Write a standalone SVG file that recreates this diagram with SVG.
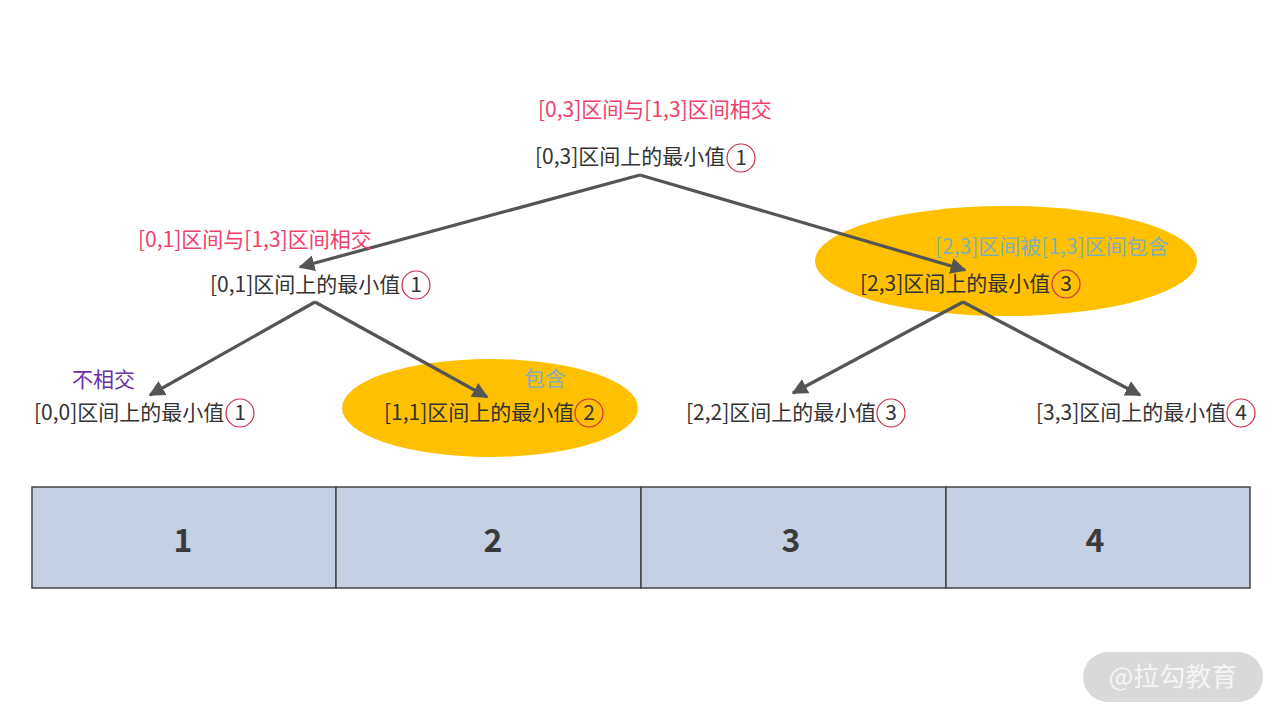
<svg xmlns="http://www.w3.org/2000/svg" width="1280" height="720" viewBox="0 0 1280 720">
<defs>
<style>
.t{font-family:"Noto Sans CJK SC","Noto Sans",sans-serif;font-size:21px;fill:#333;}
.red{font-family:"Noto Sans CJK SC","Noto Sans",sans-serif;font-size:21px;fill:#f0406a;}
.teal{font-family:"Noto Sans CJK SC","Noto Sans",sans-serif;font-size:21px;fill:#7fb0b8;}
.pur{font-family:"Noto Sans CJK SC","Noto Sans",sans-serif;font-size:21px;fill:#6a2fa8;}
.c{fill:none;stroke:#c8304a;stroke-width:1.2;}
.e{fill:#ffc000;}
.ln{stroke:#555;stroke-width:3.2;fill:none;marker-end:url(#ah);}
.box{fill:#c5d0e3;stroke:#444;stroke-width:1.5;}
.num{font-family:"Noto Sans CJK SC","Noto Sans",sans-serif;font-size:32px;font-weight:bold;fill:#3a3a3a;text-anchor:middle;}
</style>
<marker id="ah" viewBox="0 0 10 10" refX="9" refY="5" markerWidth="5" markerHeight="5" orient="auto" markerUnits="strokeWidth">
<path d="M0,0 L10,5 L0,10 z" fill="#555"/>
</marker>
</defs>
<rect width="1280" height="720" fill="#fff"/>
<ellipse class="e" cx="1006" cy="261" rx="191" ry="55"/>
<ellipse class="e" cx="490" cy="408" rx="148" ry="49"/>
<g id="connectors">
<line class="ln" x1="640" y1="175" x2="300" y2="267"/>
<line class="ln" x1="640" y1="175" x2="965" y2="270"/>
<line class="ln" x1="315" y1="302" x2="150" y2="395"/>
<line class="ln" x1="315" y1="302" x2="487" y2="397"/>
<line class="ln" x1="963" y1="302" x2="793" y2="393"/>
<line class="ln" x1="963" y1="302" x2="1140" y2="395"/>
</g>
<g id="root">
<text class="red" x="538" y="117">[0,3]区间与[1,3]区间相交</text>
<text class="t" x="535" y="164">[0,3]区间上的最小值</text>
<circle class="c" cx="741" cy="158" r="14"/>
<text class="t" x="741" y="165" text-anchor="middle">1</text>
</g>
<g id="n01">
<text class="red" x="138" y="247">[0,1]区间与[1,3]区间相交</text>
<text class="t" x="210" y="292">[0,1]区间上的最小值</text>
<circle class="c" cx="416" cy="285" r="14"/>
<text class="t" x="416" y="292" text-anchor="middle">1</text>
</g>
<g id="n23">
<text class="teal" x="935" y="254">[2,3]区间被[1,3]区间包含</text>
<text class="t" x="860" y="291">[2,3]区间上的最小值</text>
<circle class="c" cx="1066" cy="284" r="14"/>
<text class="t" x="1066" y="291" text-anchor="middle">3</text>
</g>
<g id="n00">
<text class="pur" x="72" y="387">不相交</text>
<text class="t" x="34" y="420">[0,0]区间上的最小值</text>
<circle class="c" cx="240" cy="413" r="14"/>
<text class="t" x="240" y="420" text-anchor="middle">1</text>
</g>
<g id="n11">
<text class="teal" x="524" y="386">包含</text>
<text class="t" x="384" y="420">[1,1]区间上的最小值</text>
<circle class="c" cx="589" cy="413" r="14"/>
<text class="t" x="589" y="420" text-anchor="middle">2</text>
</g>
<g id="n22">
<text class="t" x="686" y="420">[2,2]区间上的最小值</text>
<circle class="c" cx="891" cy="413" r="14"/>
<text class="t" x="891" y="420" text-anchor="middle">3</text>
</g>
<g id="n33">
<text class="t" x="1036" y="420">[3,3]区间上的最小值</text>
<circle class="c" cx="1241" cy="413" r="14"/>
<text class="t" x="1241" y="420" text-anchor="middle">4</text>
</g>
<g id="array">
<rect class="box" x="32" y="487" width="304" height="101"/>
<rect class="box" x="336" y="487" width="305" height="101"/>
<rect class="box" x="641" y="487" width="305" height="101"/>
<rect class="box" x="946" y="487" width="304" height="101"/>
<text class="num" x="183" y="552">1</text>
<text class="num" x="493" y="552">2</text>
<text class="num" x="791" y="552">3</text>
<text class="num" x="1095" y="552">4</text>
</g>
<g id="watermark">
<rect x="1083" y="652" width="180" height="50" rx="25" fill="#d9d9d9"/>
<text x="1173" y="686" text-anchor="middle" style="font-family:'Noto Sans CJK SC',sans-serif;font-size:26px;fill:#f4f4f4;">@拉勾教育</text>
</g>
</svg>
